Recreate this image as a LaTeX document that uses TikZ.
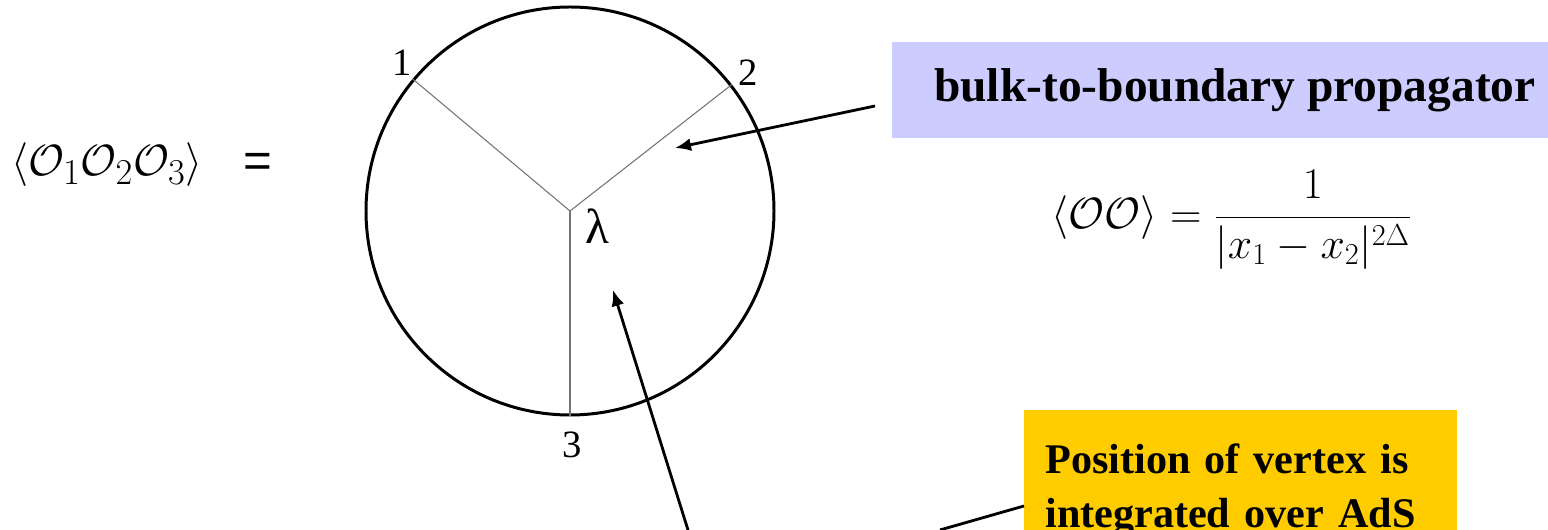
\documentclass[tikz,border=0pt]{standalone}
\usepackage[no-math]{fontspec}
\setmainfont{Liberation Serif}
\newfontfamily\eqfont{Liberation Sans}
\usetikzlibrary{arrows.meta}
\definecolor{propBlue}{RGB}{204,204,255}
\definecolor{noteGold}{RGB}{255,204,0}

\begin{document}
\begin{tikzpicture}[
    boundary/.style={circle, draw=black, line width=1.7pt, minimum size=8.16cm, inner sep=0pt},
    spoke/.style={draw=black!55, line width=0.6pt},
    leg label/.style={font=\fontsize{22}{26}\selectfont, inner sep=1pt},
    pointer/.style={-{Latex[length=3.2mm,width=2.6mm]}, line width=1.6pt},
    propbox/.style={rectangle, fill=propBlue, minimum width=13.72cm, minimum height=1.92cm, font=\fontsize{27}{30}\selectfont\bfseries},
    notebox/.style={rectangle, fill=noteGold, text width=7.82cm, inner xsep=0.42cm, inner ysep=0.22cm, align=left, minimum height=3.2cm, font=\fontsize{24}{31}\selectfont\bfseries}
]
  \useasboundingbox (0,0) rectangle (30.96,10.6);

  \node (lhs) at (2.14,7.3) {\fontsize{28}{32}\selectfont$\langle\mathcal{O}_1\mathcal{O}_2\mathcal{O}_3\rangle$};
  \node (eq) at (5.16,7.3) {\eqfont\fontsize{28}{30}\selectfont =};

  \node[boundary] (ads) at (11.4,6.38) {};
  \coordinate (vtx) at (ads.center);
  \draw[spoke] (vtx) -- (ads.140);
  \draw[spoke] (vtx) -- (ads.38);
  \draw[spoke] (vtx) -- (ads.south);
  \node[leg label] (n1) at (8.04,9.34) {1};
  \node[leg label] (n2) at (14.96,9.14) {2};
  \node[leg label] (n3) at (11.44,1.70) {3};
  \node[leg label, font=\fontsize{28}{30}\selectfont] (lam) at (11.94,6.08) {λ};

  \node[propbox] (prop) at (24.7,8.8) {bulk-to-boundary propagator};
  \node (corr) at (24.64,6.2) {\fontsize{24.5}{29}\selectfont$\displaystyle\langle\mathcal{O}\mathcal{O}\rangle=\frac{1}{|x_1-x_2|^{2\Delta}}$};
  \node[notebox, anchor=north west] (note) at (20.48,2.4) {Position of vertex is\\integrated over AdS};

  \coordinate (propTail) at (17.5,8.48);
  \coordinate (propTip) at (13.5,7.64);
  \draw[pointer] (propTail) -- (propTip);
  \coordinate (noteTail) at (13.76,0);
  \coordinate (vtxTip) at (12.26,4.8);
  \draw[pointer] (noteTail) -- (vtxTip);
  \coordinate (noteEdge) at (20.48,0.48);
  \coordinate (noteFoot) at (18.8,0);
  \draw[line width=1.6pt] (noteEdge) -- (noteFoot);
\end{tikzpicture}
\end{document}
